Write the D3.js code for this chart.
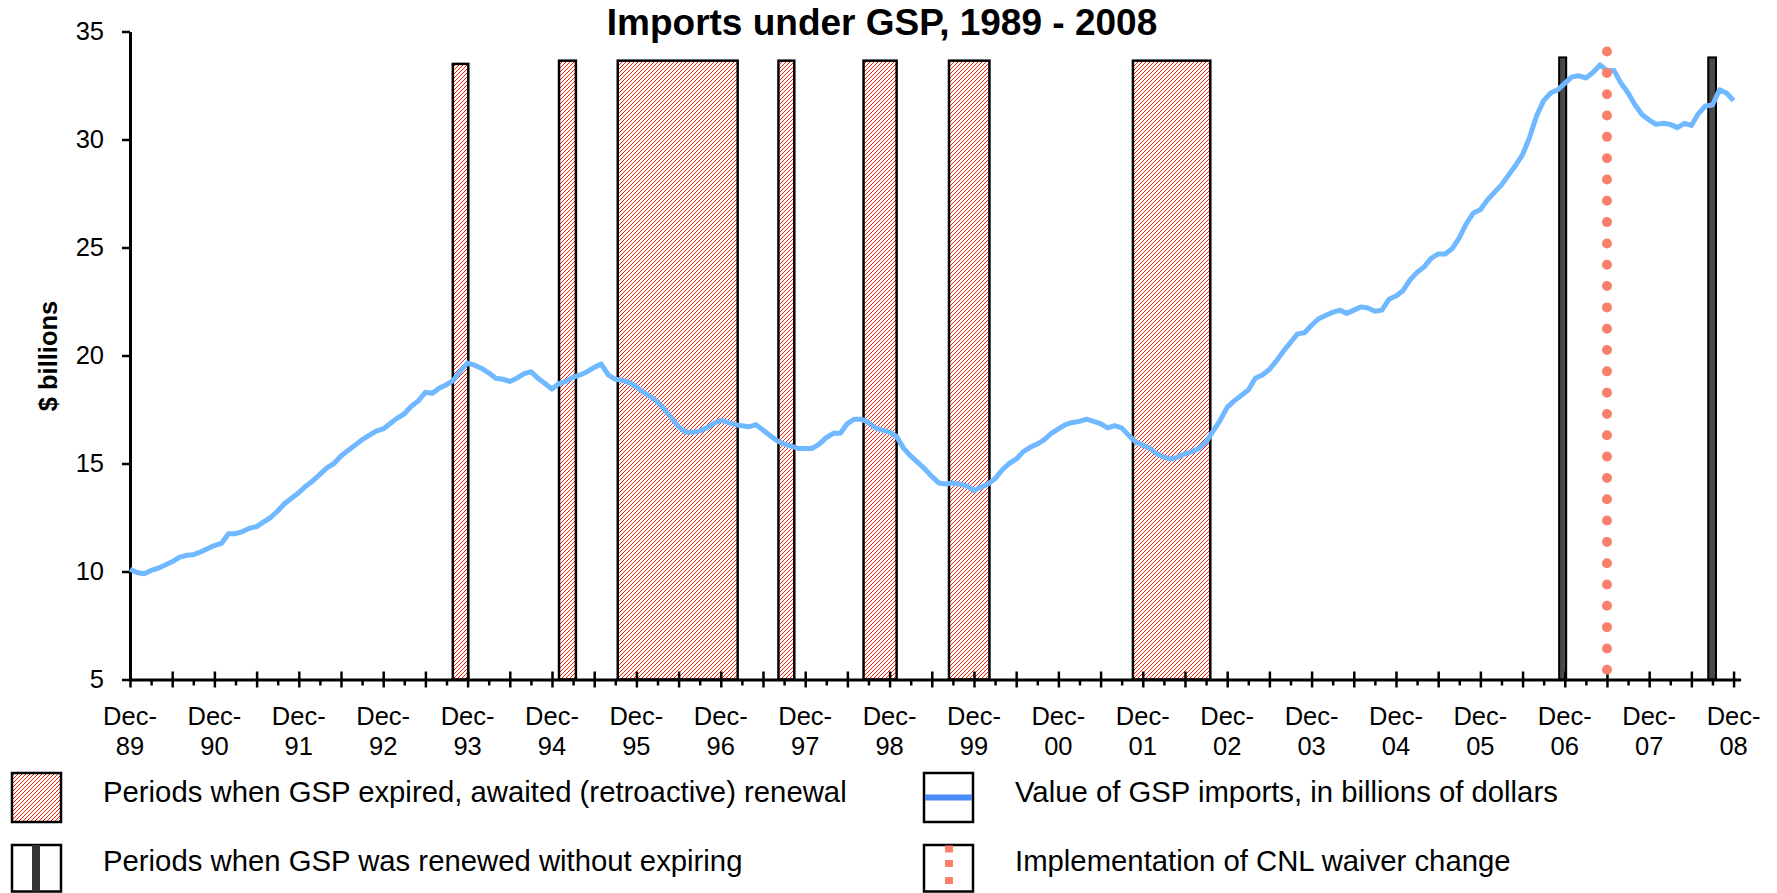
<!DOCTYPE html>
<html>
<head>
<meta charset="utf-8">
<script src="https://cdn.jsdelivr.net/npm/d3@7"></script>
<style>
  html, body { margin: 0; padding: 0; background: #fff; }
  svg { display: block; }
  text { font-family: "Liberation Sans", Arial, Helvetica, sans-serif; fill: #000; }
</style>
</head>
<body>
<svg id="chart" width="1777" height="893"></svg>
<script>
// ---------------- DATA ----------------
const chartTitle = "Imports under GSP, 1989 - 2008";
const yAxisTitle = "$ billions";
const yTicks = [5, 10, 15, 20, 25, 30, 35];
// year labels for the December ticks (month offset = 12 * index from Dec-89)
const yearLabels = ["89","90","91","92","93","94","95","96","97","98","99","00","01","02","03","04","05","06","07","08"];
const monthLabelPrefix = "Dec-";

// Monthly value of GSP imports ($ billions), Dec-89 ... Dec-08 (month offset 0..228)
const gspValues = [
  10.1, 9.95, 9.9, 10.05, 10.15, 10.3, 10.45, 10.65, 10.75, 10.78, 10.9, 11.05,
  11.2, 11.3, 11.75, 11.75, 11.85, 12.0, 12.08, 12.3, 12.5, 12.8, 13.15, 13.4,
  13.65, 13.95, 14.2, 14.5, 14.8, 15.0, 15.35, 15.6, 15.85, 16.1, 16.3, 16.5,
  16.6, 16.85, 17.1, 17.3, 17.65, 17.9, 18.3, 18.25, 18.5, 18.65, 18.85, 19.3,
  19.65, 19.55, 19.4, 19.2, 18.95, 18.9, 18.8, 18.95, 19.15, 19.25, 18.95, 18.7,
  18.45, 18.7, 18.8, 19.0, 19.1, 19.25, 19.45, 19.6, 19.1, 18.9, 18.85, 18.75,
  18.55, 18.3, 18.1, 17.85, 17.5, 17.1, 16.7, 16.45, 16.45, 16.5, 16.65, 16.85,
  17.0, 16.9, 16.8, 16.75, 16.7, 16.8, 16.55, 16.3, 16.05, 15.9, 15.8, 15.7,
  15.7, 15.7, 15.9, 16.2, 16.4, 16.4, 16.85, 17.05, 17.05, 16.9, 16.65, 16.55,
  16.45, 16.25, 15.7, 15.35, 15.05, 14.75, 14.4, 14.1, 14.05, 14.1, 14.05, 13.95,
  13.75, 13.9, 14.05, 14.3, 14.7, 15.0, 15.2, 15.55, 15.75, 15.9, 16.1, 16.4,
  16.6, 16.8, 16.9, 16.95, 17.05, 16.95, 16.85, 16.65, 16.75, 16.65, 16.3, 16.0,
  15.85, 15.7, 15.45, 15.3, 15.2, 15.3, 15.45, 15.55, 15.7, 16.0, 16.5, 17.0,
  17.6, 17.9, 18.15, 18.4, 18.95, 19.1, 19.35, 19.75, 20.2, 20.6, 21.0, 21.05,
  21.4, 21.7, 21.85, 22.0, 22.1, 21.95, 22.1, 22.25, 22.2, 22.05, 22.1, 22.6,
  22.75, 23.0, 23.5, 23.85, 24.1, 24.5, 24.7, 24.7, 24.95, 25.45, 26.1, 26.6,
  26.75, 27.2, 27.55, 27.9, 28.35, 28.8, 29.3, 30.1, 31.1, 31.8, 32.15, 32.3,
  32.6, 32.9, 32.95, 32.85, 33.1, 33.45, 33.2, 33.2, 32.6, 32.15, 31.6, 31.15,
  30.9, 30.7, 30.75, 30.7, 30.55, 30.75, 30.65, 31.2, 31.55, 31.6, 32.3, 32.15,
  31.8
];

// Periods when GSP expired (month offsets from Dec-89) and bar heights
const expiredStart = [45.9, 61.0, 69.35, 92.2, 104.3, 116.45, 142.6];
const expiredEnd   = [48.1, 63.4, 86.4, 94.45, 109.0, 122.2, 153.6];
const expiredTop   = [33.5, 33.65, 33.65, 33.65, 33.65, 33.65, 33.65];

// Periods when GSP was renewed without expiring
const renewedStart = [203.2, 224.4];
const renewedEnd   = [204.2, 225.5];
const renewedTop   = [33.8, 33.8];

// Implementation of CNL waiver change (month offset) and its extent
const cnlMonth = 210;
const cnlTop = 34.07;
const cnlBottom = 5.45;

const legendLabels = [
  "Periods when GSP expired, awaited (retroactive) renewal",
  "Periods when GSP was renewed without expiring",
  "Value of GSP imports, in billions of dollars",
  "Implementation of CNL waiver change"
];

// ---------------- DRAWING ----------------
const svg = d3.select("#chart");
const x = d3.scaleLinear().domain([0, 229]).range([130, 1740.6]);
const y = d3.scaleLinear().domain([5, 35]).range([679.5, 31.5]);

const lineColor = "#70b8ff";
const hatchRed = "#ff1e00";
const dotColor = "#fa806c";

// hatch pattern: dotted red "/" diagonals on white
const defs = svg.append("defs");
const pat = defs.append("pattern")
  .attr("id", "hatch")
  .attr("patternUnits", "userSpaceOnUse")
  .attr("width", 4).attr("height", 4);
pat.append("rect").attr("width", 4).attr("height", 4).attr("fill", "#fff");
[[3, 0], [2, 1], [1, 2], [0, 3]].forEach(([px, py], k) => {
  pat.append("rect")
    .attr("x", px).attr("y", py)
    .attr("width", k % 2 === 0 ? 1.3 : 1.1).attr("height", k % 2 === 0 ? 1.3 : 1.1)
    .attr("fill", hatchRed)
    .attr("shape-rendering", "crispEdges");
});

// title
svg.append("text")
  .attr("x", 882).attr("y", 35)
  .attr("text-anchor", "middle")
  .attr("font-size", 37).attr("font-weight", "bold")
  .text(chartTitle);

// y axis title
svg.append("text")
  .attr("transform", "translate(57,356) rotate(-90)")
  .attr("text-anchor", "middle")
  .attr("font-size", 25.5).attr("font-weight", "bold")
  .text(yAxisTitle);

// expired bars
const expired = expiredStart.map((s, i) => ({ s, e: expiredEnd[i], t: expiredTop[i] }));
svg.append("g").selectAll("rect").data(expired).join("rect")
  .attr("x", d => x(d.s))
  .attr("y", d => y(d.t))
  .attr("width", d => x(d.e) - x(d.s))
  .attr("height", d => y(5) - y(d.t))
  .attr("fill", "url(#hatch)")
  .attr("stroke", "#000").attr("stroke-width", 2.5);

// renewed bars
const renewed = renewedStart.map((s, i) => ({ s, e: renewedEnd[i], t: renewedTop[i] }));
svg.append("g").selectAll("rect").data(renewed).join("rect")
  .attr("x", d => x(d.s))
  .attr("y", d => y(d.t))
  .attr("width", d => x(d.e) - x(d.s))
  .attr("height", d => y(5) - y(d.t))
  .attr("fill", "#4a4a4a")
  .attr("stroke", "#000").attr("stroke-width", 2);

// y axis
const yAxis = svg.append("g")
  .attr("transform", `translate(${x(0)},0)`)
  .call(d3.axisLeft(y).tickValues(yTicks).tickSize(8).tickSizeOuter(0).tickPadding(18).tickFormat(d3.format("d")));
yAxis.select(".domain").attr("stroke", "#000").attr("stroke-width", 3);
yAxis.selectAll(".tick line").attr("stroke", "#000").attr("stroke-width", 2.5);
yAxis.selectAll(".tick text").attr("font-size", 25.5).attr("font-family", "Liberation Sans, Arial, sans-serif");

// x axis
const quarterTicks = d3.range(0, 229, 3);
const xAxis = svg.append("g")
  .attr("transform", `translate(0,${y(5)})`)
  .call(d3.axisBottom(x).tickValues(quarterTicks).tickSize(8).tickSizeOuter(0).tickFormat(() => ""));
xAxis.select(".domain").attr("stroke", "#000").attr("stroke-width", 3);
xAxis.selectAll(".tick line")
  .attr("stroke", "#000").attr("stroke-width", 2.5)
  .attr("y1", d => (d % 6 === 0 ? -8 : 0))
  .attr("y2", d => (d % 6 === 0 ? 8 : 6));
xAxis.selectAll(".tick text").remove();

const labelG = svg.append("g").attr("font-size", 25.5);
yearLabels.forEach((lab, i) => {
  const t = labelG.append("text")
    .attr("text-anchor", "middle")
    .attr("x", x(i * 12));
  t.append("tspan").attr("x", x(i * 12)).attr("y", y(5) + 45.5).text(monthLabelPrefix);
  t.append("tspan").attr("x", x(i * 12)).attr("y", y(5) + 75.5).text(lab);
});

// value line
const line = d3.line().x((d, i) => x(i)).y(d => y(d));
svg.append("path")
  .datum(gspValues)
  .attr("d", line)
  .attr("fill", "none")
  .attr("stroke", lineColor)
  .attr("stroke-width", 5)
  .attr("stroke-linejoin", "round");

// CNL dotted line
svg.append("line")
  .attr("x1", x(cnlMonth)).attr("x2", x(cnlMonth))
  .attr("y1", y(cnlTop)).attr("y2", y(cnlBottom))
  .attr("stroke", dotColor)
  .attr("stroke-width", 10)
  .attr("stroke-linecap", "round")
  .attr("stroke-dasharray", `0,${(y(cnlBottom) - y(cnlTop)) / 29}`);

// ---------------- LEGEND ----------------
const lg = svg.append("g");
const legendFont = 29.3;
// row 1 left: hatched
lg.append("rect").attr("x", 12).attr("y", 773).attr("width", 49).attr("height", 49)
  .attr("fill", "url(#hatch)").attr("stroke", "#000").attr("stroke-width", 2.5);
lg.append("text").attr("x", 103).attr("y", 801.7).attr("font-size", legendFont).text(legendLabels[0]);
// row 2 left: renewed
lg.append("rect").attr("x", 12).attr("y", 845).attr("width", 49).attr("height", 46.5)
  .attr("fill", "#fff").attr("stroke", "#000").attr("stroke-width", 2.5);
lg.append("rect").attr("x", 32).attr("y", 845).attr("width", 8).attr("height", 46.5)
  .attr("fill", "#333");
lg.append("text").attr("x", 103).attr("y", 871).attr("font-size", legendFont).text(legendLabels[1]);
// row 1 right: line
lg.append("rect").attr("x", 924).attr("y", 773).attr("width", 49).attr("height", 49)
  .attr("fill", "#fff").attr("stroke", "#000").attr("stroke-width", 2.5);
lg.append("line").attr("x1", 925).attr("x2", 972).attr("y1", 797.5).attr("y2", 797.5)
  .attr("stroke", "#4a8cf5").attr("stroke-width", 6);
lg.append("text").attr("x", 1015).attr("y", 801.7).attr("font-size", legendFont).text(legendLabels[2]);
// row 2 right: dotted
lg.append("rect").attr("x", 924).attr("y", 845).attr("width", 49).attr("height", 46.5)
  .attr("fill", "#fff").attr("stroke", "#000").attr("stroke-width", 2.5);
[845.5, 860, 877].forEach(yy => {
  lg.append("rect").attr("x", 945).attr("y", yy).attr("width", 8).attr("height", 7).attr("fill", dotColor);
});
lg.append("text").attr("x", 1015).attr("y", 871).attr("font-size", legendFont).text(legendLabels[3]);
</script>
</body>
</html>
